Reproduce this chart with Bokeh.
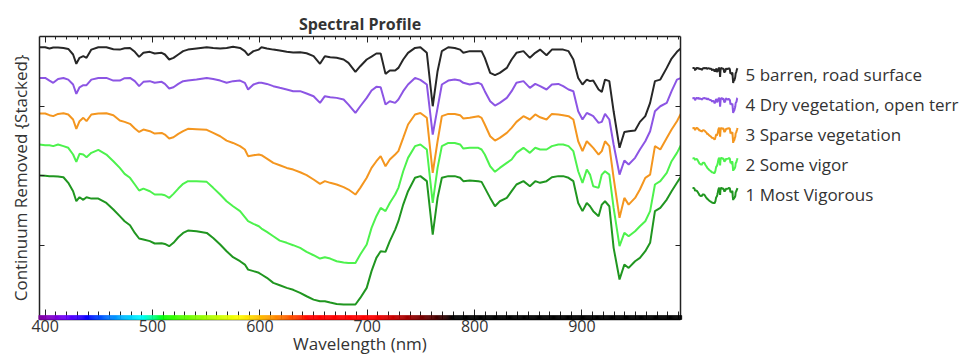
from bokeh.plotting import figure
from bokeh.models import Range1d, LinearAxis, SingleIntervalTicker, FixedTicker
from bokeh.layouts import row
from bokeh.embed import file_html
from bokeh.resources import INLINE
from bokeh.core.properties import value

# ---------------- data ----------------
wavelength = [394.5, 400, 404, 407.5, 412, 417, 421.5, 426, 429, 432, 435.5, 438.5, 443, 449.5, 457, 463.5, 469.5, 474, 479, 483.5, 487.5, 491.5,
              497.5, 502, 508.5, 511.5, 515.5, 519.5, 524, 528.5, 533, 541, 550.5, 556.5, 563, 569, 575, 581.5, 586, 589, 594, 599,
              601.5, 606.5, 612.5, 618.5, 625, 631, 637.5, 643.5, 650, 656, 660.5, 665.5, 671.5, 678, 682.5, 689, 693.5,
              699.5, 704, 708.5, 712.5, 717, 721, 726, 729, 733.5, 738, 744.5, 749.5, 755.5, 761, 765.5, 769.5, 775.5, 781.5, 786.5, 789.5, 795.5, 803.5,
              806.5, 809.5, 814.5, 819, 823.5, 830, 834.5, 839, 845.5, 851.5, 856.5, 861, 867, 872, 878, 882.5, 887.5, 892, 896.5, 900.5,
              904.5, 907.5, 910.5, 915.5, 918.5, 921.5, 925.5, 929.5, 935, 939.5, 943.5, 949.5, 954, 959, 963.5, 968, 973, 979, 983.5, 988.5, 992.5]

barren = [1.923, 1.923, 1.914, 1.921, 1.921, 1.918, 1.911, 1.871, 1.804, 1.847, 1.859, 1.847, 1.906, 1.923, 1.923, 1.909, 1.906, 1.916, 1.918, 1.890, 1.854, 1.883,
          1.890, 1.878, 1.883, 1.871, 1.835, 1.847, 1.871, 1.895, 1.906, 1.914, 1.923, 1.918, 1.914, 1.918, 1.926, 1.918, 1.895, 1.866, 1.895, 1.906,
          1.923, 1.914, 1.906, 1.899, 1.890, 1.885, 1.887, 1.880, 1.859, 1.804, 1.859, 1.852, 1.847, 1.835, 1.811, 1.746, 1.787,
          1.835, 1.856, 1.878, 1.878, 1.732, 1.756, 1.756, 1.775, 1.835, 1.883, 1.918, 1.923, 1.883, 1.500, 1.751, 1.895, 1.923, 1.918, 1.906, 1.883, 1.895, 1.895,
          1.895, 1.847, 1.739, 1.723, 1.739, 1.775, 1.835, 1.883, 1.895, 1.847, 1.883, 1.906, 1.866, 1.906, 1.906, 1.906, 1.895, 1.835, 1.703, 1.656,
          1.691, 1.680, 1.684, 1.620, 1.603, 1.691, 1.680, 1.464, 1.202, 1.316, 1.321, 1.326, 1.388, 1.429, 1.524, 1.680, 1.691, 1.775, 1.842, 1.890, 1.918]

dry_vegetation = [1.703, 1.703, 1.684, 1.668, 1.696, 1.703, 1.691, 1.656, 1.589, 1.636, 1.651, 1.651, 1.691, 1.703, 1.703, 1.684, 1.684, 1.701, 1.703, 1.680, 1.644, 1.675,
                  1.680, 1.668, 1.675, 1.660, 1.627, 1.636, 1.660, 1.680, 1.684, 1.691, 1.703, 1.696, 1.684, 1.668, 1.680, 1.684, 1.668, 1.620, 1.656, 1.668,
                  1.668, 1.660, 1.644, 1.632, 1.620, 1.608, 1.608, 1.591, 1.572, 1.524, 1.572, 1.565, 1.560, 1.548, 1.512, 1.452, 1.500,
                  1.560, 1.613, 1.639, 1.636, 1.512, 1.536, 1.524, 1.548, 1.608, 1.656, 1.703, 1.689, 1.656, 1.297, 1.488, 1.656, 1.684, 1.691, 1.684, 1.668, 1.656, 1.668,
                  1.656, 1.608, 1.536, 1.505, 1.524, 1.560, 1.608, 1.668, 1.680, 1.632, 1.660, 1.644, 1.620, 1.656, 1.660, 1.644, 1.620, 1.608, 1.464, 1.405,
                  1.452, 1.441, 1.429, 1.381, 1.388, 1.445, 1.405, 1.226, 1.010, 1.111, 1.082, 1.130, 1.190, 1.249, 1.321, 1.464, 1.500, 1.524, 1.608, 1.691, 1.703]

sparse_vegetation = [1.448, 1.448, 1.436, 1.429, 1.445, 1.450, 1.441, 1.405, 1.338, 1.393, 1.417, 1.393, 1.441, 1.448, 1.450, 1.436, 1.398, 1.388, 1.374, 1.340, 1.316, 1.333,
                     1.321, 1.304, 1.309, 1.297, 1.269, 1.278, 1.302, 1.321, 1.338, 1.335, 1.331, 1.309, 1.285, 1.254, 1.237, 1.214, 1.190, 1.142, 1.149, 1.154,
                     1.149, 1.125, 1.094, 1.077, 1.058, 1.046, 1.027, 1.006, 0.975, 0.944, 0.963, 0.951, 0.939, 0.920, 0.903, 0.867, 0.915,
                     0.987, 1.058, 1.106, 1.142, 1.070, 1.118, 1.154, 1.178, 1.273, 1.369, 1.441, 1.452, 1.417, 1.022, 1.249, 1.429, 1.445, 1.445, 1.436, 1.412, 1.417, 1.429,
                     1.417, 1.369, 1.285, 1.254, 1.273, 1.309, 1.345, 1.388, 1.429, 1.405, 1.441, 1.421, 1.405, 1.445, 1.441, 1.436, 1.429, 1.405, 1.249, 1.178,
                     1.249, 1.226, 1.202, 1.154, 1.178, 1.249, 1.214, 0.987, 0.700, 0.843, 0.795, 0.843, 0.903, 0.987, 1.010, 1.214, 1.190, 1.273, 1.333, 1.393, 1.452]

some_vigor = [1.226, 1.221, 1.221, 1.214, 1.226, 1.214, 1.202, 1.154, 1.101, 1.159, 1.154, 1.135, 1.166, 1.187, 1.154, 1.106, 1.058, 1.015, 0.987, 0.939, 0.896, 0.910,
              0.891, 0.867, 0.867, 0.862, 0.843, 0.872, 0.910, 0.944, 0.963, 0.963, 0.958, 0.915, 0.867, 0.819, 0.783, 0.748, 0.705, 0.676, 0.657, 0.640,
              0.623, 0.599, 0.568, 0.537, 0.521, 0.504, 0.485, 0.456, 0.432, 0.408, 0.418, 0.408, 0.389, 0.380, 0.377, 0.377, 0.437,
              0.509, 0.628, 0.712, 0.771, 0.748, 0.807, 0.867, 0.915, 1.034, 1.130, 1.214, 1.226, 1.190, 0.807, 1.058, 1.214, 1.237, 1.237, 1.226, 1.197, 1.202, 1.202,
              1.190, 1.154, 1.070, 1.030, 1.058, 1.094, 1.118, 1.166, 1.202, 1.166, 1.202, 1.190, 1.190, 1.214, 1.226, 1.226, 1.214, 1.178, 1.034, 0.951,
              1.046, 1.010, 0.927, 0.915, 1.010, 1.034, 1.010, 0.771, 0.497, 0.592, 0.568, 0.604, 0.640, 0.676, 0.748, 0.939, 0.963, 1.022, 1.106, 1.166, 1.226]

most_vigorous = [1.003, 1.001, 0.999, 0.999, 0.996, 0.991, 0.951, 0.891, 0.819, 0.848, 0.829, 0.848, 0.838, 0.838, 0.807, 0.760, 0.712, 0.676, 0.647, 0.592, 0.552, 0.545,
                 0.533, 0.516, 0.518, 0.513, 0.497, 0.521, 0.561, 0.592, 0.609, 0.604, 0.592, 0.556, 0.509, 0.461, 0.418, 0.389, 0.365, 0.329, 0.318, 0.306,
                 0.294, 0.270, 0.234, 0.217, 0.198, 0.184, 0.162, 0.138, 0.114, 0.102, 0.102, 0.093, 0.083, 0.079, 0.079, 0.079, 0.126,
                 0.198, 0.318, 0.413, 0.461, 0.456, 0.533, 0.616, 0.676, 0.795, 0.891, 0.987, 0.999, 0.963, 0.580, 0.843, 0.987, 0.999, 0.999, 0.987, 0.963, 0.967, 0.963,
                 0.958, 0.915, 0.843, 0.783, 0.819, 0.843, 0.891, 0.939, 0.963, 0.927, 0.963, 0.951, 0.963, 0.991, 0.999, 0.999, 0.987, 0.963, 0.807, 0.748,
                 0.807, 0.783, 0.748, 0.712, 0.795, 0.819, 0.783, 0.485, 0.258, 0.365, 0.341, 0.389, 0.413, 0.461, 0.521, 0.748, 0.771, 0.831, 0.891, 0.951, 0.999]

series = [barren, dry_vegetation, sparse_vegetation, some_vigor, most_vigorous]
series_labels = ["5 barren, road surface", "4 Dry vegetation, open terr", "3 Sparse vegetation",
                 "2 Some vigor", "1 Most Vigorous"]
series_colors = ["#272727", "#8c55e4", "#f4961f", "#4df24d", "#209620"]
y_ticks = [0.5, 1.0, 1.5]

X_START, X_END = 394.7, 991.8
Y_START, Y_END = -0.0287, 2.0
FONT = "Open Sans"
TEXT = "#333333"
AXIS = "#222222"
FIG_H = 358
BORDER_TOP, BORDER_BOTTOM = 36, 39


def spectrum_rgb(w):
    """Visible-spectrum colour for the wavelength colour bar."""
    if w < 440:
        r, g, b = (440 - w) / 60.0, 0.0, 1.0
    elif w < 490:
        r, g, b = 0.0, (w - 440) / 50.0, 1.0
    elif w < 510:
        r, g, b = 0.0, 1.0, (510 - w) / 20.0
    elif w < 580:
        r, g, b = (w - 510) / 70.0, 1.0, 0.0
    elif w < 645:
        r, g, b = 1.0, (645 - w) / 65.0, 0.0
    else:
        r, g, b = 1.0, 0.0, 0.0
    if w < 420:
        f = 0.3 + 0.7 * (w - 380) / 40.0
    elif w <= 705:
        f = 1.0
    elif w < 780:
        f = (780 - w) / 75.0
    else:
        f = 0.0
    to8 = lambda c: int(round(255 * (c * f) ** 0.8)) if c * f > 0 else 0
    return "#%02x%02x%02x" % (to8(r), to8(g), to8(b))


# ---------------- main plot ----------------
p = figure(width=688, height=FIG_H, x_range=Range1d(X_START, X_END), y_range=Range1d(Y_START, Y_END),
           output_backend="svg", toolbar_location=None, title="Spectral Profile",
           min_border_left=39, min_border_right=8, min_border_top=BORDER_TOP, min_border_bottom=BORDER_BOTTOM)
p.grid.visible = False
p.outline_line_color = None
p.background_fill_color = "white"

p.title.align = "center"
p.title.text_font = FONT
p.title.text_font_size = "16px"
p.title.text_font_style = "bold"
p.title.text_color = TEXT
p.title.standoff = 4

xa = p.xaxis[0]
xa.ticker = SingleIntervalTicker(interval=100, num_minor_ticks=10)
xa.axis_label = "Wavelength (nm)"
xa.axis_label_text_font = FONT
xa.axis_label_text_font_size = "17px"
xa.axis_label_text_font_style = "normal"
xa.axis_label_text_color = TEXT
xa.axis_label_standoff = -3
xa.major_label_text_font = FONT
xa.major_label_text_font_size = "16px"
xa.major_label_text_color = TEXT
xa.major_label_standoff = 0
xa.major_tick_in = 10
xa.major_tick_out = 0
xa.minor_tick_in = 8
xa.minor_tick_out = 0
xa.axis_line_color = AXIS
xa.axis_line_width = 1.5
xa.major_tick_line_color = AXIS
xa.minor_tick_line_color = AXIS

top = LinearAxis(ticker=SingleIntervalTicker(interval=100, num_minor_ticks=10),
                 major_label_text_font_size="1px", major_label_text_color=None, major_label_standoff=0,
                 major_tick_in=6, major_tick_out=0, minor_tick_in=3, minor_tick_out=0,
                 axis_line_color=AXIS, axis_line_width=1.5,
                 major_tick_line_color=AXIS, minor_tick_line_color=AXIS)
p.add_layout(top, "above")

ya = p.yaxis[0]
ya.ticker = FixedTicker(ticks=y_ticks)
ya.axis_label = "Continuum Removed {Stacked}"
ya.axis_label_text_font = FONT
ya.axis_label_text_font_size = "17px"
ya.axis_label_text_font_style = "normal"
ya.axis_label_text_color = TEXT
ya.axis_label_standoff = 8
ya.major_label_text_font_size = "1px"
ya.major_label_text_color = None
ya.major_label_standoff = 0
ya.major_tick_in = 5
ya.major_tick_out = 0
ya.minor_tick_line_color = None
ya.axis_line_color = AXIS
ya.axis_line_width = 1.5
ya.major_tick_line_color = AXIS

right = LinearAxis(ticker=FixedTicker(ticks=y_ticks), major_label_text_font_size="1px",
                   major_label_text_color=None,
                   major_label_standoff=0, major_tick_in=5, major_tick_out=0,
                   minor_tick_line_color=None, axis_line_color=AXIS, axis_line_width=1.5,
                   major_tick_line_color=AXIS)
p.add_layout(right, "right")

for s, c in zip(series, series_colors):
    p.line(wavelength, s, line_color=c, line_width=2)

# wavelength colour bar along the bottom of the frame
bar_left = [394 + i for i in range(599)]
bar_right = [w + 1 for w in bar_left]
bar_colors = [spectrum_rgb(w + 0.5) for w in bar_left]
p.quad(left=bar_left, right=bar_right, bottom=Y_START, top=0.0,
       fill_color=bar_colors, line_color=bar_colors, line_width=0.5, level="overlay")

# ---------------- legend panel (its frame is aligned with the plot frame) ----------------
lg = figure(width=277, height=FIG_H, x_range=Range1d(0, 277),
            y_range=Range1d(FIG_H - BORDER_BOTTOM, BORDER_TOP),
            output_backend="svg", toolbar_location=None,
            min_border_left=0, min_border_right=0, min_border_top=BORDER_TOP, min_border_bottom=BORDER_BOTTOM,
            x_axis_type=None, y_axis_type=None)
lg.grid.visible = False
lg.outline_line_color = None

ROW0, ROW_GAP = 74, 30
ICON_X0, ICON_W, ICON_H = 4, 45, 15
TEXT_X = 57
w0, w1 = wavelength[0], wavelength[-1]
for k, (s, c) in enumerate(zip(series, series_colors)):
    lo, hi = min(s), max(s)
    cy = ROW0 + k * ROW_GAP + 1
    xs = [ICON_X0 + (w - w0) / (w1 - w0) * ICON_W for w in wavelength]
    ys = [cy + ICON_H / 2 - (v - lo) / (hi - lo) * ICON_H for v in s]
    lg.line(xs, ys, line_color=c, line_width=2)

lg.text(x=[TEXT_X] * len(series_labels), y=[ROW0 + k * ROW_GAP for k in range(len(series_labels))],
        text=series_labels, text_baseline="middle", text_align="left",
        text_font=value(FONT), text_font_size="17px", text_color=TEXT)

layout = row(p, lg)
open("out.html", "w").write(file_html(layout, INLINE))
